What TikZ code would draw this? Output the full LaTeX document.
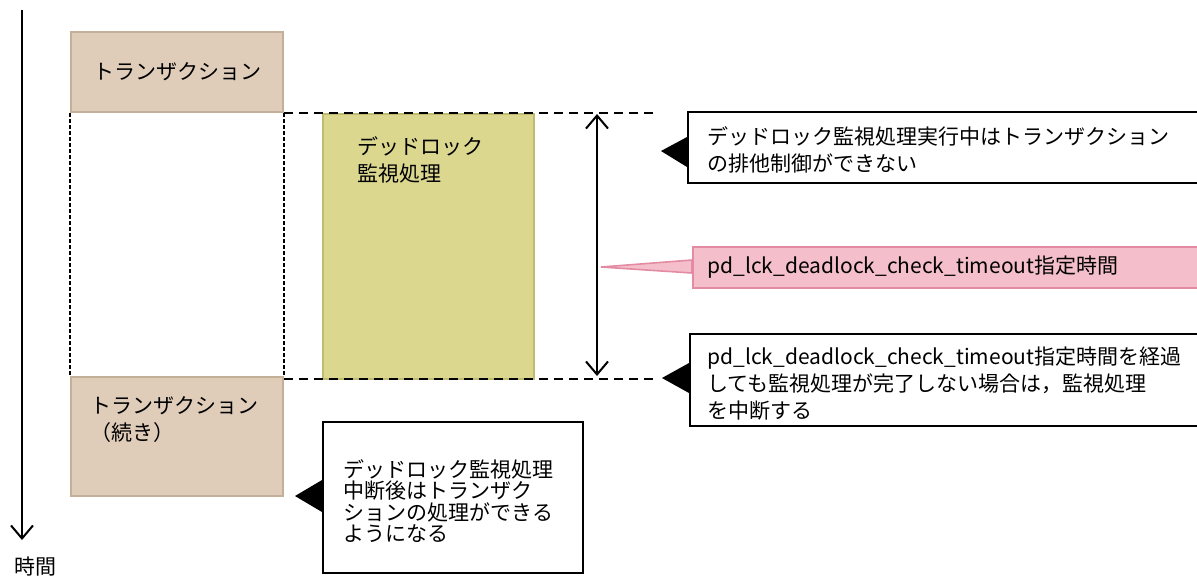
\documentclass[tikz,border=0pt]{standalone}
\usepackage{fontspec}
\setmainfont{Noto Sans CJK JP}
\usepackage{tikz}
\usetikzlibrary{arrows.meta,positioning,calc}
\definecolor{trantan}{HTML}{DFCDBA}
\definecolor{tranedge}{HTML}{C4AF98}
\definecolor{lockolive}{HTML}{DBD78F}
\definecolor{lockedge}{HTML}{BFBB70}
\definecolor{tmpink}{HTML}{F4BFCB}
\definecolor{tmedge}{HTML}{E38BA2}

\tikzset{
  boxbase/.style={anchor=north west, inner sep=0pt, line width=1pt},
  tranbox/.style={boxbase, draw=tranedge, fill=trantan},
  lockbox/.style={boxbase, draw=lockedge, fill=lockolive},
  notebox/.style={boxbase, draw=black, fill=white},
  pinkbox/.style={boxbase, draw=tmedge, fill=tmpink},
  lbl/.style={inner sep=0pt, align=left, font=\fontsize{10.5pt}{13.5pt}\selectfont},
  shortdash/.style={line width=1pt, dash pattern=on 2pt off 1pt},
  longdash/.style={line width=0.8pt, dash pattern=on 4.5pt off 3pt},
  barb/.style={line width=1pt},
}

\begin{document}
\begin{tikzpicture}[x=0.5pt,y=-0.5pt]
\useasboundingbox (0,0) rectangle (1197,575);
\clip (0,0) rectangle (1197,575);

% time axis
\coordinate (axtop) at (22,10);
\coordinate (axend) at (22,540);
\draw[barb, -{Straight Barb[length=6.5pt,width=11pt]}] (axtop) -- (axend);
\node[lbl] (timelbl) at (35,566) {時間};

% transaction blocks
\node[tranbox, minimum width=106pt, minimum height=40pt] (tran1) at (70,31) {};
\node[lbl] at (tran1.center) {トランザクション};
\node[tranbox, minimum width=106pt, minimum height=59.5pt] (tran2) at (70,376) {};
\node[lbl, anchor=west] at ($(tran2.north west)+(20,44)$) {トランザクション\\（続き）};
\draw[shortdash] (tran1.south west) -- (tran2.north west);
\draw[shortdash] (tran1.south east) -- (tran2.north east);

% deadlock check
\node[lockbox, minimum width=105.5pt, minimum height=132.5pt] (lock) at (322,113) {};
\node[lbl, anchor=west] at ($(lock.north west)+(35,46.5)$) {デッドロック\\監視処理};

\coordinate (topend) at (655,113);
\coordinate (botend) at (655,379);
\draw[longdash] (tran1.south east |- lock.north) -- (topend);
\draw[longdash] (tran2.north east |- botend) -- (botend);

% timeout span
\coordinate (spantop) at (597,114);
\coordinate (spanbot) at (597,376);
\draw[barb, {Straight Barb[length=6.5pt,width=11pt]}-{Straight Barb[length=6.5pt,width=11pt]}] (spantop) -- (spanbot);

% notes
\node[notebox, minimum width=261.5pt, minimum height=35.5pt] (note1) at (687,111) {};
\node[lbl, anchor=west] at ($(note1.north west)+(20,39)$)
  {デッドロック監視処理実行中はトランザクション\\の排他制御ができない};
\fill ($(note1.north west)+(0,26)$) -- ($(note1.north west)+(-26,40)$) -- ($(note1.north west)+(0,56)$) -- cycle;

\filldraw[fill=tmpink, draw=tmedge, line width=0.8pt]
  (692,260) -- (601,267) -- (692,273) -- cycle;
\node[pinkbox, minimum width=259pt, minimum height=20.5pt] (tmbox) at (692,246) {};
\node[lbl, anchor=west] at ($(tmbox.west)+(15,0)$) {pd\_lck\_deadlock\_check\_timeout指定時間};

\node[notebox, minimum width=260.5pt, minimum height=46pt] (note2) at (689,333) {};
\node[lbl, anchor=west] at ($(note2.north west)+(18,51)$)
  {pd\_lck\_deadlock\_check\_timeout指定時間を経過\\しても監視処理が完了しない場合は，監視処理\\を中断する};
\fill ($(note2.north west)+(0,30)$) -- ($(note2.north west)+(-27,45)$) -- ($(note2.north west)+(0,60)$) -- cycle;

\node[notebox, minimum width=130pt, minimum height=75.5pt] (note3) at (322,421) {};
\node[lbl, anchor=west, font=\fontsize{10.5pt}{10.8pt}\selectfont] at ($(note3.north west)+(21,80)$)
  {デッドロック監視処理\\中断後はトランザク\\ションの処理ができる\\ようになる};
\fill ($(note3.north west)+(0,59)$) -- ($(note3.north west)+(-27,75)$) -- ($(note3.north west)+(0,91)$) -- cycle;
\end{tikzpicture}
\end{document}
